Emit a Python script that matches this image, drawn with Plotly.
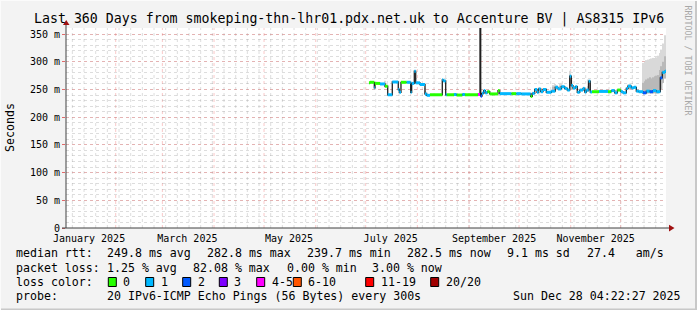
import plotly.graph_objects as go
import pandas as pd

# ---------------- data ----------------
title_text = "Last 360 Days from smokeping-thn-lhr01.pdx.net.uk to Accenture BV | AS8315 IPv6"
x_start = "2025-01-02 04:22:27"
x_end = "2025-12-28 04:22:27"

median_dates = [
    "2025-07-02 23:00", "2025-07-03 14:00", "2025-07-06 04:00", "2025-07-06 14:00",
    "2025-07-09 14:00", "2025-07-12 14:00", "2025-07-14 05:00", "2025-07-16 23:00",
    "2025-07-20 13:00", "2025-07-21 04:00", "2025-07-22 04:00", "2025-07-25 14:00",
    "2025-07-28 00:00", "2025-07-28 14:00", "2025-07-30 04:00", "2025-07-31 00:00",
    "2025-08-02 14:00", "2025-08-05 14:00", "2025-08-06 14:00", "2025-08-08 14:00",
    "2025-08-15 23:00", "2025-08-16 13:00", "2025-08-18 00:00", "2025-08-18 14:00",
    "2025-08-23 00:00", "2025-08-24 12:00", "2025-08-28 00:00", "2025-08-29 12:00",
    "2025-09-06 09:00", "2025-09-07 14:00", "2025-09-08 00:00", "2025-09-08 19:00",
    "2025-09-09 19:00", "2025-09-10 18:00", "2025-09-11 23:00", "2025-09-13 10:00",
    "2025-09-18 09:00", "2025-09-19 10:00", "2025-09-26 09:00", "2025-09-29 09:00",
    "2025-10-02 09:00", "2025-10-08 00:00", "2025-10-08 23:00", "2025-10-10 10:00",
    "2025-10-11 19:00", "2025-10-12 19:00", "2025-10-14 00:00", "2025-10-15 09:00",
    "2025-10-17 09:00", "2025-10-20 09:00", "2025-10-22 18:00", "2025-10-24 09:00",
    "2025-10-26 09:00", "2025-10-28 10:00", "2025-10-29 23:00", "2025-10-31 10:00",
    "2025-11-01 09:00", "2025-11-02 09:00", "2025-11-03 18:00", "2025-11-04 23:00",
    "2025-11-06 10:00", "2025-11-08 09:00", "2025-11-09 10:00", "2025-11-10 09:00",
    "2025-11-11 19:00", "2025-11-12 18:00", "2025-11-13 19:00", "2025-11-18 00:00",
    "2025-11-23 09:00", "2025-11-25 09:00", "2025-11-27 10:00", "2025-11-28 23:00",
    "2025-12-01 00:00", "2025-12-02 09:00", "2025-12-04 09:00", "2025-12-05 09:00",
    "2025-12-07 09:00", "2025-12-08 23:00", "2025-12-10 09:00", "2025-12-11 19:00",
    "2025-12-14 09:00", "2025-12-16 09:00", "2025-12-18 10:00", "2025-12-20 09:00",
    "2025-12-22 09:00", "2025-12-24 18:00", "2025-12-25 23:00", "2025-12-27 14:00",
]
median_ms = [
    262, 263, 253, 261,
    260, 256, 240.5, 263.5,
    250, 245, 263, 263,
    245, 261, 283, 262,
    259, 242, 239.5, 240.5,
    267.5, 265.5, 240.5, 240.5,
    241, 240, 241, 240.5,
    241, 420, 238, 243,
    248, 244, 246, 242,
    248, 242.5, 242.5, 242.5,
    242, 237.6, 243, 250,
    245, 251, 246, 250,
    245, 247, 254, 251,
    255, 252, 249, 274,
    257, 252.5, 255, 245,
    249, 252, 245.5, 249,
    265, 245.5, 246, 246.5,
    246, 248, 244, 249,
    246, 244, 252, 256,
    253, 254, 247, 246,
    244, 247, 246, 248,
    246, 271, 281, 283,
]
# loss bucket index per sample (0, 1, 2, 3, 4-5, 6-10, 11-19, 20/20)
loss_bucket = [
    0, 0, 1, 0,
    1, 0, 1, 1,
    1, 1, 0, 1,
    1, 1, 1, 1,
    1, 1, 1, 0,
    1, 1, 1, 0,
    1, 0, 1, 0,
    4, 2, 2, 1,
    1, 1, 0, 0,
    0, 1, 0, 1,
    1, 0, 1, 1,
    1, 1, 1, 1,
    1, 1, 1, 1,
    1, 1, 1, 1,
    1, 1, 1, 1,
    1, 1, 1, 1,
    1, 1, 0, 1,
    0, 1, 1, 0,
    1, 1, 1, 1,
    1, 1, 1, 1,
    2, 1, 2, 1,
    1, 2, 1, 1,
]

smoke_dates = [
    "2025-07-12 12:00", "2025-08-05 12:00", "2025-08-06 12:00",
    "2025-10-21 12:00", "2025-10-22 12:00", "2025-10-23 12:00", "2025-10-25 12:00",
    "2025-10-26 12:00", "2025-10-31 12:00", "2025-11-01 12:00", "2025-11-11 12:00",
    "2025-12-05 12:00", "2025-12-06 12:00",
    "2025-12-14 12:00", "2025-12-15 12:00", "2025-12-16 12:00", "2025-12-17 12:00",
    "2025-12-18 12:00", "2025-12-19 12:00", "2025-12-20 12:00", "2025-12-21 12:00",
    "2025-12-22 12:00", "2025-12-23 12:00", "2025-12-24 12:00", "2025-12-25 12:00",
    "2025-12-26 12:00", "2025-12-27 12:00",
]
smoke_lo = [254, 241, 239, 251, 252, 250, 252, 253, 252, 250, 246, 250, 250,
            243, 243, 243, 243, 243, 243, 243, 243, 243, 243, 245, 250, 262, 270]
smoke_mid = [258, 247, 242, 255, 256, 254, 256, 257, 268, 258, 256, 254, 255,
             262, 265, 268, 270, 272, 270, 272, 274, 275, 276, 285, 292, 300, 310]
smoke_hi = [266, 253, 246, 258, 260, 258, 261, 262, 284, 268, 268, 259, 261,
            298, 300, 303, 304, 305, 306, 307, 307, 308, 311, 316, 322, 333, 348]

y_ticks = [0, 50, 100, 150, 200, 250, 300, 350]
y_tick_labels = ["0", "50 m", "100 m", "150 m", "200 m", "250 m", "300 m", "350 m"]
x_tick_dates = ["2025-01-16", "2025-03-16", "2025-05-16", "2025-07-16", "2025-09-16", "2025-11-16"]
x_tick_labels = ["January 2025", "March 2025", "May 2025", "July 2025", "September 2025", "November 2025"]

loss_labels = ["0", "1", "2", "3", "4-5", "6-10", "11-19", "20/20"]
loss_colors = ["#26ff00", "#00b8ff", "#0059ff", "#7e00ff", "#ff00ff", "#ff5500", "#ff0000", "#a10000"]

stats_rtt = ["249.8 ms avg", "282.8 ms max", "239.7 ms min", "282.5 ms now", "9.1 ms sd", "27.4   am/s"]
stats_loss = ["1.25 % avg", "82.08 % max", "0.00 % min", "3.00 % now"]
probe_text = "20 IPv6-ICMP Echo Pings (56 Bytes) every 300s"
stamp_text = "Sun Dec 28 04:22:27 2025"

# ---------------- geometry helpers (pixel -> paper) ----------------
W, H = 697, 310
PL, PR, PT, PB = 66, 666, 28, 228


def px(x):
    return (x - PL) / (PR - PL)


def py(y):
    return (PB - y) / (PB - PT)


MONO = "DejaVu Sans Mono"
MAJOR_GRID = "rgba(240,110,110,0.38)"
MINOR_GRID = "rgba(150,150,150,0.32)"

fig = go.Figure()

# smoke
dates = pd.to_datetime(smoke_dates)
day_ms = 86400000
fig.add_trace(go.Bar(x=dates, base=smoke_lo, y=[h - l for h, l in zip(smoke_hi, smoke_lo)],
                     width=day_ms, marker=dict(color="#d9d9d9", line=dict(width=0)),
                     hoverinfo="skip", showlegend=False))
fig.add_trace(go.Bar(x=dates, base=smoke_lo, y=[m - l for m, l in zip(smoke_mid, smoke_lo)],
                     width=day_ms, marker=dict(color="#b9b9b9", line=dict(width=0)),
                     hoverinfo="skip", showlegend=False))

# dark median line
mx = list(median_dates) + [x_end]
my = list(median_ms) + [median_ms[-1]]
fig.add_trace(go.Scatter(x=mx, y=my, mode="lines", line=dict(color="#202020", width=1.3, shape="hv"),
                         hoverinfo="skip", showlegend=False))

# loss-coloured median segments
for b, col in enumerate(loss_colors):
    xs, ys = [], []
    for i, d in enumerate(median_dates):
        if loss_bucket[i] != b:
            continue
        nxt = median_dates[i + 1] if i + 1 < len(median_dates) else x_end
        xs += [d, nxt, None]
        ys += [median_ms[i], median_ms[i], None]
    if xs:
        fig.add_trace(go.Scatter(x=xs, y=ys, mode="lines", line=dict(color=col, width=3),
                                 hoverinfo="skip", showlegend=False))

shapes = []
# vertical grid: weekly minor, monthly major
for d in pd.date_range("2025-01-06", "2025-12-28", freq="7D"):
    shapes.append(dict(type="line", xref="x", yref="paper", x0=d, x1=d, y0=0, y1=1, layer="below",
                       line=dict(color=MINOR_GRID, width=1, dash="dot")))
for d in pd.date_range("2025-02-01", "2025-12-01", freq="MS"):
    shapes.append(dict(type="line", xref="x", yref="paper", x0=d, x1=d, y0=0, y1=1, layer="below",
                       line=dict(color=MAJOR_GRID, width=1, dash="dot")))
# axis lines and arrows
axc = "#404040"
arc = "#a01010"
shapes.append(dict(type="line", xref="paper", yref="paper", x0=px(66), x1=px(66), y0=py(228), y1=py(24),
                   line=dict(color=axc, width=1)))
shapes.append(dict(type="line", xref="paper", yref="paper", x0=px(62), x1=px(670), y0=py(228), y1=py(228),
                   line=dict(color=axc, width=1)))
shapes.append(dict(type="path", xref="paper", yref="paper",
                   path=f"M {px(63)},{py(25)} L {px(69.5)},{py(25)} L {px(66.2)},{py(20)} Z",
                   fillcolor=arc, line=dict(width=0)))
shapes.append(dict(type="path", xref="paper", yref="paper",
                   path=f"M {px(669)},{py(224.8)} L {px(669)},{py(231.4)} L {px(674.5)},{py(228.1)} Z",
                   fillcolor=arc, line=dict(width=0)))
# image frame
shapes.append(dict(type="line", xref="paper", yref="paper", x0=px(0), x1=px(697), y0=py(309.5), y1=py(309.5),
                   line=dict(color="#c8c8c8", width=2)))
shapes.append(dict(type="line", xref="paper", yref="paper", x0=px(696), x1=px(696), y0=py(0), y1=py(310),
                   line=dict(color="#c8c8c8", width=2)))
shapes.append(dict(type="line", xref="paper", yref="paper", x0=px(0), x1=px(697), y0=py(0.5), y1=py(0.5),
                   line=dict(color="#fbfbfb", width=1)))
shapes.append(dict(type="line", xref="paper", yref="paper", x0=px(0.5), x1=px(0.5), y0=py(0), y1=py(310),
                   line=dict(color="#fbfbfb", width=1)))

annotations = []


def text(x, y, s, size=11.6, color="#000000", xanchor="left", angle=0):
    annotations.append(dict(x=px(x), y=py(y), xref="paper", yref="paper", text=s.replace(" ", "\u00a0"),
                            showarrow=False, xanchor=xanchor, yanchor="middle", textangle=angle,
                            borderpad=0, borderwidth=0,
                            font=dict(family=MONO, size=size, color=color)))


text(348.5, 19, title_text, size=13.25, xanchor="center")
text(10, 128, "Seconds", xanchor="center", angle=-90)
text(687.5, 60, "RRDTOOL / TOBI OETIKER", size=8.3, color="#a8a8a8", xanchor="center", angle=90)

# legend rows
text(16, 253, "median rtt:")
for s, x in zip(stats_rtt, [107, 207, 307, 407, 507, 586.7]):
    text(x, 253, s)
text(16, 268, "packet loss:")
for s, x in zip(stats_loss, [107, 193.3, 286.7, 372.3]):
    text(x, 268, s)
text(16, 282, "loss color:")
box_x = [108.3, 145.7, 182.7, 219.3, 256.7, 293.3, 365.7, 430.7]
for lab, col, bx in zip(loss_labels, loss_colors, box_x):
    shapes.append(dict(type="rect", xref="paper", yref="paper", x0=px(bx), x1=px(bx + 8),
                       y0=py(277.5), y1=py(286.5), fillcolor=col, line=dict(color="#000000", width=1)))
    text(bx + 15, 282, lab)
text(16, 296, "probe:")
text(107, 296, probe_text)
text(513.3, 296, stamp_text)

fig.update_layout(
    width=W, height=H, autosize=False,
    margin=dict(l=PL, r=W - PR, t=PT, b=H - PB, pad=0),
    paper_bgcolor="#f3f3f3", plot_bgcolor="#ffffff",
    barmode="overlay", showlegend=False,
    shapes=shapes, annotations=annotations,
    font=dict(family=MONO, size=10, color="#000000"),
    xaxis=dict(type="date", range=[x_start, x_end], tickmode="array", tickvals=x_tick_dates,
               ticktext=x_tick_labels, showgrid=False, zeroline=False, showline=False, ticks="",
               ticklabelstandoff=3,
               tickfont=dict(family=MONO, size=10, color="#000000"), fixedrange=True),
    yaxis=dict(range=[0, 361], tickmode="array", tickvals=y_ticks, ticktext=y_tick_labels,
               showgrid=True, gridcolor=MAJOR_GRID, griddash="dot", gridwidth=1,
               minor=dict(dtick=10, tick0=0, showgrid=True, gridcolor=MINOR_GRID,
                          griddash="dot", gridwidth=1),
               zeroline=False, showline=False, ticks="outside", ticklen=3,
               tickcolor="rgba(220,70,70,0.8)",
               tickfont=dict(family=MONO, size=10, color="#000000"), fixedrange=True),
)

fig.write_html("out.html")
